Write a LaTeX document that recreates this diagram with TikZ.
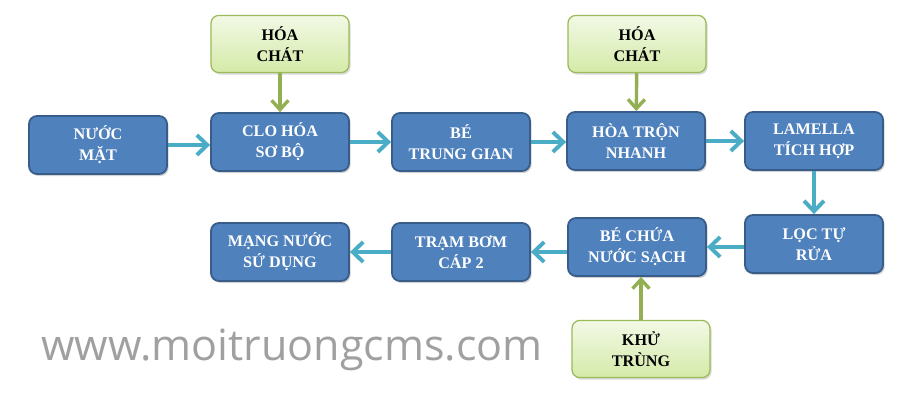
\documentclass[tikz,border=0pt]{standalone}
\usepackage{fontspec}
\setmainfont{Liberation Serif}
\newfontfamily\wmfont{Open Sans}
\usepackage{tikz}
\usetikzlibrary{arrows.meta,shadows,positioning}
\definecolor{stepblue}{RGB}{79,129,189}
\definecolor{stepedge}{RGB}{56,93,138}
\definecolor{flowteal}{RGB}{75,172,198}
\definecolor{addedge}{RGB}{155,187,89}
\definecolor{addtop}{RGB}{242,249,230}
\definecolor{addbot}{RGB}{213,234,168}
\definecolor{addarrow}{RGB}{146,176,82}
\definecolor{wmgray}{RGB}{160,160,160}
\begin{document}
\begin{tikzpicture}[x=0.025cm,y=-0.025cm,
  stepbox/.style={draw=stepedge,line width=1.3pt,fill=stepblue,rounded corners=0.2cm,
    minimum width=3.45cm,minimum height=1.45cm,align=center,text=white,
    font=\bfseries\fontsize{11.5}{15}\selectfont,
    drop shadow={shadow xshift=0.04cm,shadow yshift=-0.05cm,opacity=0.35}},
  addbox/.style={draw=addedge,line width=0.9pt,top color=addtop,bottom color=addbot,rounded corners=0.2cm,
    minimum width=3.45cm,minimum height=1.43cm,align=center,text=black,
    font=\bfseries\fontsize{11.5}{15}\selectfont,
    drop shadow={shadow xshift=0.04cm,shadow yshift=-0.05cm,opacity=0.3}},
  flow/.style={-{Straight Barb[length=2.6mm,width=5mm]},line width=2.8pt,flowteal},
  feed/.style={-{Straight Barb[length=2.3mm,width=4.2mm]},line width=2.4pt,addarrow}]
\useasboundingbox (0,0) rectangle (921,406);
% main line
\node[stepbox] (nuoc) at (98,145) {NƯỚC\\MẶT};
\node[stepbox] (clo) at (280,142) {CLO HÓA\\SƠ BỘ};
\node[stepbox] (trung) at (461,142) {BÉ\\TRUNG GIAN};
\node[stepbox] (tron) at (636,141) {HÒA TRỘN\\NHANH};
\node[stepbox] (lamella) at (814,141) {LAMELLA\\TÍCH HỢP};
\node[stepbox] (loc) at (814,244) {LỌC TỰ\\RỬA};
\node[stepbox] (chua) at (637,247) {BÉ CHỨA\\NƯỚC SẠCH};
\node[stepbox] (bom) at (461,252) {TRẠM BƠM\\CÁP 2};
\node[stepbox] (mang) at (280,252) {MẠNG NƯỚC\\SỨ DỤNG};
% additives
\node[addbox] (hoa1) at (280,44) {HÓA\\CHÁT};
\node[addbox] (hoa2) at (637,44) {HÓA\\CHÁT};
\node[addbox] (khu) at (641,349) {KHỬ\\TRÙNG};
\node[font=\wmfont\fontsize{30.6}{36}\selectfont,text=wmgray] (web) at (292,350) {www.moitruongcms.com};
\draw[flow] (nuoc.east) -- (nuoc.east -| clo.west);
\draw[flow] (clo) -- (trung);
\draw[flow] (trung.east) -- (trung.east -| tron.west);
\draw[flow] (tron) -- (lamella);
\draw[flow] (lamella) -- (loc);
\draw[flow] (loc.west |- chua) -- (chua.east);
\draw[flow] (chua.west |- bom) -- (bom.east);
\draw[flow] (bom) -- (mang);
\draw[feed] (hoa1) -- (clo);
\draw[feed] (hoa2) -- (tron);
\draw[feed] (khu.north) -- (khu.north |- chua.south);
\end{tikzpicture}
\end{document}
